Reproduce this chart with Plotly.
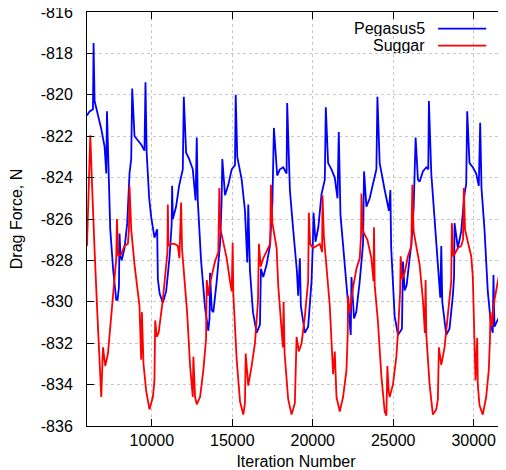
"""Drag force history: Pegasus5 vs Suggar."""
import plotly.graph_objects as go

pegasus_iter = [
    5968, 6129, 6340, 6377, 6439, 6650, 6855, 7060, 7165, 7209, 7308, 7413, 7599, 7786, 7866, 7953,
    7990, 8052, 8127, 8300, 8468, 8530, 8611, 8716, 8778, 8921, 9132, 9336, 9541, 9603, 9677, 9833,
    9957, 10161, 10329, 10372, 10484, 10682, 10887, 11092, 11228, 11259, 11303, 11507, 11693, 11923,
    11985, 12128, 12314, 12543, 12717, 12791, 12853, 13058, 13306, 13511, 13585, 13616, 13722, 13821,
    14032, 14237, 14330, 14379, 14547, 14751, 14962, 15167, 15211, 15310, 15583, 15787, 15930, 15992,
    16097, 16284, 16513, 16718, 16780, 16923, 17133, 17338, 17493, 17586, 17791, 17958, 18163, 18374,
    18411, 18579, 18783, 19013, 19094, 19199, 19261, 19509, 19714, 19925, 20005, 20049, 20173, 20347,
    20545, 20750, 20812, 20954, 21165, 21370, 21538, 21618, 21724, 21928, 22114, 22363, 22406, 22567,
    22704, 22921, 23126, 23188, 23336, 23541, 23746, 23957, 24019, 24161, 24472, 24738, 24825, 24875,
    25092, 25297, 25545, 25607, 25712, 25836, 26022, 26128, 26270, 26395, 26537, 26643, 26847, 27058,
    27182, 27220, 27368, 27468, 27635, 27778, 27927, 27989, 28051, 28299, 28503, 28708, 28783, 28814,
    29018, 29229, 29434, 29539, 29601, 29744, 29949, 30160, 30321, 30408, 30489, 30675, 30880, 31090,
    31189, 31233, 31295, 31605, 31748, 31915,
]
pegasus_drag = [
    -821.0, -820.8, -820.7, -817.5, -820.3, -821.0, -821.65, -822.5, -823.8, -820.8, -823.8, -826.5,
    -828.5, -829.9, -829.9, -829.3, -826.7, -827.8, -828.0, -827.4, -826.2, -825.0, -823.8, -823.1,
    -819.7, -822.0, -822.2, -822.4, -822.7, -819.4, -822.8, -825.0, -825.9, -826.9, -826.5, -828.9,
    -829.6, -830.05, -829.5, -827.9, -826.3, -824.4, -826.0, -825.4, -824.4, -823.6, -820.1, -822.8,
    -823.1, -823.6, -825.1, -822.06, -825.1, -828.0, -830.3, -831.4, -830.8, -828.6, -830.4, -830.5,
    -829.0, -827.2, -825.3, -823.1, -824.85, -824.35, -823.6, -823.4, -820.0, -823.0, -824.1, -825.6,
    -828.1, -825.3, -828.5, -830.5, -831.5, -831.1, -828.4, -828.8, -828.2, -827.3, -825.2, -821.6,
    -823.9, -823.6, -823.5, -823.8, -820.4, -824.6, -826.5, -828.5, -829.7, -827.9, -830.2, -831.5,
    -831.2, -829.0, -827.2, -825.7, -827.1, -826.4, -824.8, -824.1, -820.6, -823.3, -823.6, -824.0,
    -825.0, -821.8, -825.8, -827.8, -829.5, -831.6, -828.8, -830.8, -830.5, -829.0, -827.2, -823.7,
    -825.4, -825.0, -824.3, -823.6, -820.1, -823.3, -824.6, -825.6, -824.6, -827.4, -830.7, -831.6,
    -831.3, -828.05, -829.45, -829.2, -827.9, -827.2, -825.5, -822.06, -824.1, -824.2, -823.7, -823.5,
    -823.6, -820.3, -823.8, -824.9, -826.3, -828.2, -829.8, -827.3, -830.0, -831.6, -831.3, -829.7,
    -828.8, -826.2, -827.4, -826.6, -824.8, -824.3, -820.8, -823.3, -823.5, -823.8, -824.4, -821.35,
    -824.5, -826.5, -829.5, -831.2, -831.5, -828.7, -831.2, -830.7, -829.3, -828.0,
]

suggar_iter = [
    5968, 6049, 6173, 6266, 6359, 6439, 6607, 6762, 6855, 6961, 7103, 7271, 7413, 7581, 7786, 7829,
    7910, 8096, 8300, 8511, 8573, 8611, 8716, 8921, 9088, 9231, 9336, 9380, 9479, 9646, 9851, 10062,
    10161, 10205, 10310, 10422, 10682, 10887, 10968, 10992, 11030, 11197, 11402, 11613, 11712, 11817,
    11880, 12035, 12190, 12376, 12543, 12580, 12686, 12791, 12996, 13201, 13368, 13412, 13511, 13616,
    13926, 14131, 14193, 14268, 14441, 14652, 14857, 14962, 15024, 15062, 15273, 15477, 15682, 15787,
    15831, 15992, 16203, 16408, 16594, 16656, 16761, 16923, 17233, 17357, 17400, 17493, 17754, 17853,
    18145, 18188, 18250, 18473, 18684, 18889, 18994, 19137, 19305, 19509, 19714, 19757, 19838, 20024,
    20235, 20440, 20582, 20607, 20688, 20855, 21060, 21265, 21370, 21476, 21680, 21885, 22096, 22176,
    22195, 22301, 22505, 22716, 22921, 23001, 23026, 23107, 23188, 23398, 23647, 23777, 23808, 23851,
    24056, 24267, 24472, 24577, 24639, 24719, 24781, 24986, 25197, 25297, 25433, 25464, 25545, 25712,
    25917, 26128, 26190, 26270, 26438, 26643, 26847, 26971, 27015, 27058, 27263, 27468, 27679, 27778,
    27840, 27989, 28193, 28398, 28609, 28646, 28721, 28814, 29018, 29229, 29341, 29391, 29465, 29639,
    29850, 29949, 30054, 30116, 30222, 30259, 30365, 30569, 30780, 30941, 31016, 31047, 31152, 31295,
    31605, 31729, 31822, 31915,
]
suggar_drag = [
    -827.3, -825.0, -821.95, -824.0, -826.5, -827.5, -830.5, -833.0, -834.6, -832.2, -833.1, -832.5,
    -831.3, -830.0, -827.9, -826.0, -827.8, -827.7, -827.3, -827.2, -826.5, -824.4, -826.5, -828.2,
    -829.4, -830.2, -832.8, -830.5, -833.0, -834.3, -835.2, -834.6, -833.8, -830.9, -831.7, -831.5,
    -829.9, -828.2, -827.6, -825.3, -827.3, -827.2, -827.2, -827.3, -827.9, -825.2, -827.5, -829.0,
    -830.5, -833.1, -834.6, -832.65, -834.6, -834.95, -834.6, -833.3, -831.8, -828.95, -829.7, -829.1,
    -828.05, -827.6, -824.5, -826.5, -827.07, -827.9, -829.0, -829.5, -827.15, -829.6, -832.8, -834.8,
    -835.45, -834.9, -832.5, -834.05, -833.1, -832.0, -830.0, -827.2, -828.3, -827.9, -827.4, -827.2,
    -824.35, -826.2, -827.4, -829.2, -832.2, -830.0, -832.5, -834.7, -835.45, -834.9, -831.7, -832.4,
    -832.0, -830.7, -829.0, -825.7, -827.2, -827.4, -827.3, -827.2, -827.6, -824.85, -826.8, -828.2,
    -830.2, -833.5, -832.4, -834.6, -835.3, -834.6, -833.3, -831.5, -829.7, -830.5, -829.3, -828.4,
    -827.9, -826.8, -824.77, -826.5, -826.7, -827.0, -827.9, -829.0, -826.4, -829.2, -831.0, -833.6,
    -835.3, -835.5, -833.1, -834.3, -834.6, -834.0, -832.65, -831.5, -829.5, -827.8, -828.9, -828.6,
    -827.8, -827.3, -824.35, -826.6, -827.4, -828.2, -829.9, -831.5, -828.95, -831.6, -834.0, -835.45,
    -835.2, -834.7, -832.2, -833.05, -832.2, -830.7, -829.0, -826.2, -827.8, -827.7, -827.4, -827.3,
    -827.0, -824.5, -826.5, -827.1, -827.8, -828.8, -831.7, -833.8, -831.75, -834.0, -835.0, -835.45,
    -834.6, -833.3, -831.8, -830.5, -831.2, -829.9, -828.6, -827.5, -825.1, -826.5,
]

assert len(pegasus_iter) == len(pegasus_drag), (len(pegasus_iter), len(pegasus_drag))
assert len(suggar_iter) == len(suggar_drag), (len(suggar_iter), len(suggar_drag))

x_ticks = [10000, 15000, 20000, 25000, 30000]
y_ticks = list(range(-836, -815, 2))

BLUE = '#0000ff'
RED = '#ff0000'
FONT = 'Liberation Sans, Arial, Helvetica, sans-serif'

fig = go.Figure()
fig.add_trace(go.Scatter(x=pegasus_iter, y=pegasus_drag, mode='lines', name='Pegasus5',
                         line=dict(color=BLUE, width=1.8)))
fig.add_trace(go.Scatter(x=suggar_iter, y=suggar_drag, mode='lines', name='Suggar',
                         line=dict(color=RED, width=1.8)))

# gnuplot style key: text right-aligned, sample line on its right
for i, (label, color) in enumerate([('Pegasus5', BLUE), ('Suggar', RED)]):
    ypos = 0.960 - i * 0.041
    fig.add_annotation(x=0.810, y=ypos, xref='paper', yref='paper', text=label, showarrow=False,
                       xanchor='right', yanchor='middle', height=15, borderpad=0,
                       font=dict(size=16, color='black'))
    fig.add_shape(type='line', xref='paper', yref='paper', x0=0.840, x1=0.955, y0=ypos, y1=ypos,
                  line=dict(color=color, width=1.8))

axis_common = dict(showline=True, linecolor='black', linewidth=1, mirror='ticks',
                   ticks='inside', ticklen=7, tickcolor='black', showgrid=True,
                   gridcolor='#c8c8c8', griddash='dot', gridwidth=1, zeroline=False,
                   automargin=False, ticklabeloverflow='allow',
                   tickfont=dict(size=16, color='black'))

fig.update_xaxes(range=[5968, 31950], tickvals=x_ticks, ticktext=[str(v) for v in x_ticks],
                 ticklabelstandoff=0,
                 title=dict(text='Iteration Number', font=dict(size=16, color='black'), standoff=12),
                 **axis_common)
fig.update_yaxes(range=[-836, -816], tickvals=y_ticks, ticktext=[str(v) for v in y_ticks],
                 ticklabelstandoff=10,
                 title=dict(text='Drag Force, N', font=dict(size=16, color='black'), standoff=16),
                 **axis_common)

# page body has an 8px margin, so the figure is 8px smaller and margins shifted
fig.update_layout(width=498, height=462, showlegend=False,
                  margin=dict(l=79, r=1, t=4, b=44),
                  paper_bgcolor='white', plot_bgcolor='white',
                  font=dict(family=FONT, color='black'))

fig.write_html("out.html")
